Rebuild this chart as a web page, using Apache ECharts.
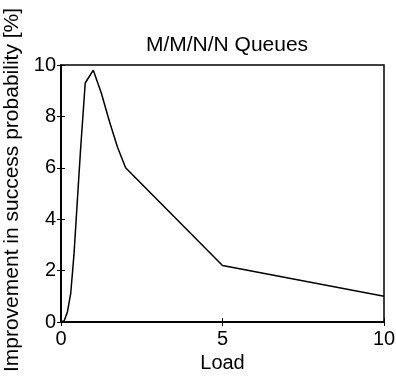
<!DOCTYPE html>
<html><head><meta charset="utf-8">
<script src="https://cdn.jsdelivr.net/npm/echarts@6/dist/echarts.min.js"></script>
<style>html,body{margin:0;padding:0;background:#fff}#c{width:396px;height:377px}</style>
</head><body><div id="c"></div>
<script>
var loads = [0, 0.1, 0.2, 0.3, 0.4, 0.5, 0.6, 0.75, 1.0, 1.25, 1.5, 1.75, 2, 5, 10];
var improvement = [0, 0.05, 0.4, 1.1, 2.6, 4.6, 6.6, 9.3, 9.8, 8.9, 7.8, 6.8, 6.0, 2.2, 1.0];
var xTicks = [0, 5, 10];
var yTicks = [0, 2, 4, 6, 8, 10];
var titleText = 'M/M/N/N Queues';
var xLabel = 'Load';
var yLabel = 'Improvement in success probability [%]';

var font = 'Liberation Sans, Arial, Helvetica, sans-serif';
var chart = echarts.init(document.getElementById('c'), null, {renderer: 'canvas'});
var pts = loads.map(function (x, i) { return [x, improvement[i]]; });
var axisCommon = {
  type: 'value', splitLine: {show: false},
  axisLine: {show: true, lineStyle: {color: '#000', width: 1.5}},
  axisTick: {show: true, inside: true, length: 4, lineStyle: {color: '#000'}}
};
chart.setOption({
  animation: false,
  backgroundColor: '#fff',
  title: {text: titleText, left: 222, top: 30, textAlign: 'center',
    textStyle: {fontFamily: font, fontSize: 21, fontWeight: 'normal', color: '#000'}},
  grid: {left: 61, right: 12, top: 65, bottom: 55, show: true, borderColor: '#000', borderWidth: 1.5,
    containLabel: false, outerBoundsMode: 'none'},
  xAxis: [
    Object.assign({}, axisCommon, {min: xTicks[0], max: xTicks[xTicks.length - 1], interval: 5, position: 'bottom',
      name: xLabel, nameLocation: 'middle', nameGap: 29,
      nameTextStyle: {fontFamily: font, fontSize: 20, color: '#000'},
      axisLabel: {fontFamily: font, fontSize: 20, color: '#000', margin: 7}}),
    Object.assign({}, axisCommon, {min: 0, max: 10, interval: 5, position: 'top', axisLabel: {show: false}})
  ],
  yAxis: [
    Object.assign({}, axisCommon, {min: yTicks[0], max: yTicks[yTicks.length - 1], interval: 2, position: 'left',
      name: yLabel, nameLocation: 'middle', nameGap: 36,
      nameTextStyle: {fontFamily: font, fontSize: 21, color: '#000', padding: [0, 0, 0, 7]},
      axisLabel: {fontFamily: font, fontSize: 20, color: '#000', margin: 5}}),
    Object.assign({}, axisCommon, {min: 0, max: 10, interval: 2, position: 'right', axisLabel: {show: false}})
  ],
  series: [{
    type: 'line', data: pts, showSymbol: false, symbol: 'none',
    lineStyle: {color: '#000', width: 1.5}, smooth: false
  }]
});
</script></body></html>
